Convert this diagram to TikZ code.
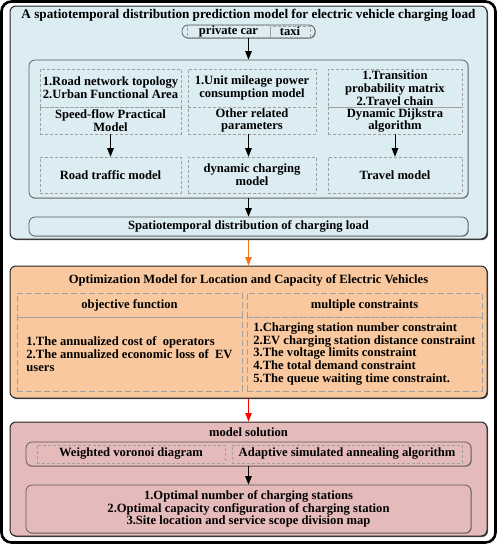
\documentclass[tikz,border=0pt]{standalone}
\usepackage{fontspec}
\setmainfont{Liberation Serif}
\usetikzlibrary{arrows.meta,shadows}

\definecolor{panelblue}{RGB}{219,236,242}
\definecolor{panelorange}{RGB}{249,200,158}
\definecolor{panelpink}{RGB}{229,186,186}
\definecolor{dashgray}{RGB}{160,160,160}
\definecolor{arroworange}{RGB}{238,118,28}

\begin{document}
\begin{tikzpicture}[x=1pt,y=-1pt,font=\bfseries\fontsize{12.6}{12.8}\selectfont,
  wh/.style 2 args={minimum width=#1pt,minimum height=#2pt},
  panel/.style={draw=black!85,line width=1pt,rounded corners=6pt,inner sep=0pt,
    drop shadow={shadow xshift=1pt,shadow yshift=-1pt,fill=black,opacity=.7}},
  roundbox/.style={draw=black!65,line width=.7pt,rounded corners=6pt,inner sep=0pt,
    drop shadow={shadow xshift=.7pt,shadow yshift=-.7pt,fill=black,opacity=.4}},
  dbox/.style={draw=dashgray,line width=.6pt,dash pattern=on 3pt off 2pt,inner sep=0pt},
  wbox/.style={draw=dashgray,line width=.8pt,dash pattern=on 6pt off 3pt,inner sep=0pt},
  arr/.style={line width=1pt,-{Triangle[length=8.5pt,width=6.5pt]}}]
\useasboundingbox (0,0) rectangle (498,544);
\draw[line width=2.6pt,rounded corners=10pt] (1.5,1.5) rectangle (495.5,542.5);

% charging load
\node[panel,fill=panelblue,wh={477}{233}] (loadpanel) at (248.5,122.5) {};
\node[font=\bfseries\fontsize{13.2}{14}\selectfont] (loadtitle) at (248.5,15) {A spatiotemporal distribution prediction model for electric vehicle charging load};
\node[roundbox,fill=panelblue,wh={133}{13}] (vehicles) at (248.5,31.5) {};
\node[dbox,wh={83}{11}] (privatecar) at (228.5,31.5) {private car};
\node[dbox,wh={40}{11}] (taxi) at (290,31.5) {taxi};
\node[roundbox,fill=panelblue,wh={439}{138}] (modelpanel) at (248.5,129) {};
\node[dbox,align=center,wh={141}{38}] (roadinput) at (110.5,88) {1.Road network topology\\2.Urban Functional Area};
\node[dbox,align=center,wh={141}{27}] (speedflow) at (110.5,120.5) {Speed-flow Practical\\Model};
\node[dbox,wh={141}{36}] (roadmodel) at (110.5,175) {Road traffic model};
\node[dbox,align=center,wh={128}{38}] (powerinput) at (252,88) {1.Unit mileage power\\consumption model};
\node[dbox,align=center,wh={128}{27}] (otherparams) at (252,120.5) {Other related\\parameters};
\node[dbox,align=center,wh={128}{36}] (chargemodel) at (252,175) {dynamic charging\\model};
\node[dbox,align=center,wh={134}{38}] (travelinput) at (395,88) {1.Transition\\probability matrix\\2.Travel chain};
\node[dbox,align=center,wh={134}{27}] (dijkstra) at (395,120.5) {Dynamic Dijkstra\\algorithm};
\node[dbox,wh={134}{36}] (travelmodel) at (395,175) {Travel model};
\node[roundbox,fill=panelblue,wh={439}{19}] (spatialload) at (248.5,226.5) {Spatiotemporal distribution of charging load};
\draw[arr] (vehicles) -- (modelpanel);
\draw[arr] (speedflow) -- (roadmodel);
\draw[arr] (otherparams.south -| modelpanel.north) -- (chargemodel.north -| modelpanel.north);
\draw[arr] (dijkstra) -- (travelmodel);
\draw[arr] (modelpanel) -- (spatialload);

% siting and sizing
\node[panel,fill=panelorange,wh={477}{132}] (sitingpanel) at (248.5,332) {};
\node (sitingtitle) at (248.5,280) {Optimization Model for Location and Capacity of Electric Vehicles};
\node[wbox,wh={225}{24}] (objective) at (129.5,305) {objective function};
\node[wbox,align=left,wh={225}{74}] (costs) at (129.5,354) {1.The annualized cost of~~operators\\2.The annualized economic loss of~~EV\\users};
\node[wbox,wh={235}{24}] (constraints) at (364.5,305) {multiple constraints};
\node[wbox,align=left,wh={235}{74}] (limits) at (364.5,354) {1.Charging station number constraint\\2.EV charging station distance constraint\\3.The voltage limits constraint\\4.The total demand constraint\\5.The queue waiting time constraint.};
\draw[arr,draw=arroworange] (loadpanel) -- (sitingpanel);

% solution
\node[panel,fill=panelpink,wh={477}{114}] (solutionpanel) at (248.5,479) {};
\node (solutiontitle) at (248.5,432) {model solution};
\node[roundbox,fill=panelpink,wh={445}{24}] (algorithms) at (248.5,454) {};
\node[dbox,wh={188}{18}] (voronoi) at (131,454) {Weighted voronoi diagram};
\node[dbox,wh={230}{18}] (annealing) at (347,454) {Adaptive simulated annealing algorithm};
\node[roundbox,fill=panelpink,align=center,wh={445}{48}] (results) at (248.5,509) {1.Optimal number of charging stations\\2.Optimal capacity configuration of charging station\\3.Site location and service scope division map};
\draw[arr,draw=red] (sitingpanel) -- (solutionpanel);
\draw[arr] (algorithms) -- (results);
\end{tikzpicture}
\end{document}
